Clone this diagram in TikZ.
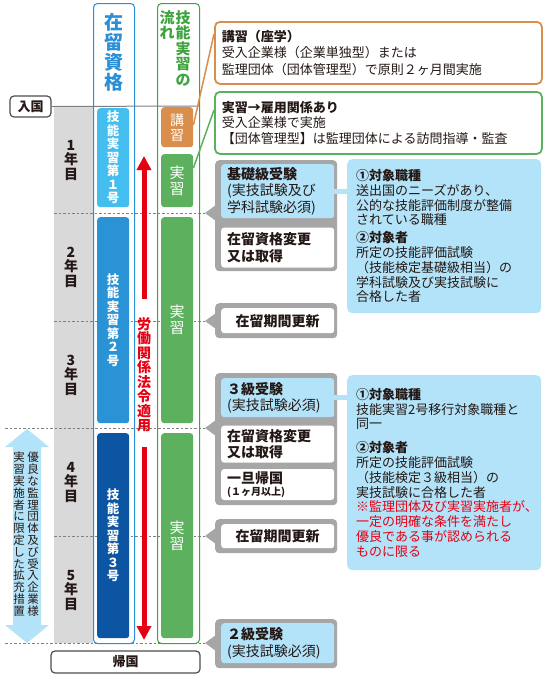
\documentclass[tikz,border=0pt]{standalone}
\usepackage{fontspec}
\setmainfont{Noto Sans CJK JP}
\usetikzlibrary{positioning, arrows.meta}

\definecolor{statusblue}{HTML}{2B8FD6}
\definecolor{flowgreen}{HTML}{3FA43F}
\definecolor{lectorange}{HTML}{D98E4B}
\definecolor{tiblue}{HTML}{44BEEE}
\definecolor{tiiblue}{HTML}{2A93D5}
\definecolor{tiiiblue}{HTML}{0B55A3}
\definecolor{stagegreen}{HTML}{5DB05E}
\definecolor{bandgrey}{HTML}{D9D9D9}
\definecolor{framegrey}{HTML}{A6A6A6}
\definecolor{infoblue}{HTML}{B3E3F9}
\definecolor{lawred}{HTML}{E50012}
\definecolor{ink}{HTML}{231815}
\definecolor{gatedark}{HTML}{4D4D4D}

\newcommand{\fs}[2]{\fontsize{#1}{#2}\selectfont}

\tikzset{
  column/.style={draw, line width=1pt, rounded corners=4pt, anchor=north west,
    minimum width=41pt, minimum height=640pt, inner sep=0pt},
  stage/.style={rounded corners=3pt, anchor=north west, minimum width=32pt,
    inner sep=0pt, text=white, align=center},
  vtext/.style={anchor=north, inner sep=0pt, align=center},
  year/.style={inner sep=0pt, align=center, font=\bfseries\fs{14}{14.5}},
  gate/.style={draw=gatedark, line width=1.2pt, rounded corners=4pt, inner sep=0pt,
    font=\bfseries\fs{13}{13}},
  yearline/.style={draw=gray, dash pattern=on 2.5pt off 2pt, line width=0.8pt},
  lawarrow/.style={draw=lawred, line width=5pt, -{Triangle[width=14pt, length=14pt]}},
  note/.style={line width=1.8pt, rounded corners=5pt, anchor=north west,
    minimum width=327pt, minimum height=62pt, text width=313pt, inner xsep=7pt,
    align=left},
  frame/.style={fill=framegrey, rounded corners=4pt, anchor=north west,
    minimum width=122pt, inner sep=0pt},
  exam/.style={fill=infoblue, rounded corners=3pt, anchor=north west,
    text width=101pt, inner xsep=6pt, inner ysep=0pt, align=left, font=\fs{14}{16.5}},
  proc/.style={exam, fill=white, font=\bfseries\fs{14}{16.5}},
  info/.style={fill=infoblue, rounded corners=5pt, anchor=north west,
    text width=176pt, inner xsep=9pt, align=left, font=\fs{13}{14.8}},
  bar/.style={draw=infoblue, line width=5pt}
}

\begin{document}
\begin{tikzpicture}[x=1pt, y=-1pt, text=ink]
\useasboundingbox (0,0) rectangle (542,689);

% years band
\fill[bandgrey] (54,106) rectangle (93,643);

% year boundaries
\coordinate (d1) at (54,213);  \coordinate (t1) at (205,213);
\coordinate (d2) at (54,321);  \coordinate (t2) at (205,321);
\coordinate (d3) at (5,428);   \coordinate (t3) at (205,428);
\coordinate (d4) at (54,536);  \coordinate (t4) at (205,536);
\coordinate (d5) at (5,643);   \coordinate (t5) at (205,643);
\foreach \a/\b in {d1/t1, d2/t2, d3/t3, d4/t4, d5/t5}
  \draw[yearline] (\a) -- (\b);

% entry
\node[gate, minimum width=41pt, minimum height=21pt] (entry) at (30.5,106.5) {入国};
\coordinate (entryend) at (199,106);
\draw[gray, line width=1pt] (entry.east) -- (entryend);

% columns
\node[column, draw=statusblue] (status) at (93,3) {};
\node[column, draw=flowgreen, minimum width=42pt] (flow) at (157,3) {};
\node[vtext, text=statusblue, font=\bfseries\fs{19}{20}] (statushead) at (113.5,13) {在\\留\\資\\格};
\node[vtext, text=flowgreen, font=\bfseries\fs{15}{15.6}] (flowhead) at (183,10) {技\\能\\実\\習\\の};
\node[vtext, text=flowgreen, font=\bfseries\fs{15}{15.6}] (flowhead2) at (167,10) {流\\れ};

% status stages
\node[stage, fill=tiblue, minimum height=99pt, font=\bfseries\fs{12.5}{13.5}] (ti1) at (97,108) {技\\能\\実\\習\\第\\１\\号};
\node[stage, fill=tiiblue, minimum height=206pt, font=\bfseries\fs{12.5}{13.5}] (ti2) at (97,217) {技\\能\\実\\習\\第\\２\\号};
\node[stage, fill=tiiiblue, minimum height=205pt, font=\bfseries\fs{12.5}{13.5}] (ti3) at (97,433) {技\\能\\実\\習\\第\\３\\号};

% flow stages
\node[stage, fill=lectorange, minimum height=40pt, font=\fs{14}{15}] (lecture) at (161,107) {講\\習};
\node[stage, fill=stagegreen, minimum height=53pt, font=\fs{15}{16}] (train1) at (161,154) {実\\習};
\node[stage, fill=stagegreen, minimum height=206pt, font=\fs{15}{16}] (train2) at (161,217) {実\\習};
\node[stage, fill=stagegreen, minimum height=205pt, font=\fs{15}{16}] (train3) at (161,433) {実\\習};

% labour law
\node[vtext, text=lawred, font=\bfseries\fs{14}{14.5}] (law) at (144,317) {労\\働\\関\\係\\法\\令\\適\\用};
\coordinate (lawa) at (144,299); \coordinate (lawb) at (144,156);
\coordinate (lawc) at (144,447); \coordinate (lawd) at (144,640);
\draw[lawarrow] (lawa) -- (lawb);
\draw[lawarrow] (lawc) -- (lawd);

% years
\foreach \n/\y in {1/160, 2/267, 3/375, 4/482, 5/590}
  \node[year] (y\n) at (71,\y) {\n\\年\\目};

% extension
\fill[infoblue] (27,429) -- (49,447) -- (41,447) -- (41,625) -- (49,625) -- (27,643)
  -- (5,625) -- (13,625) -- (13,447) -- (5,447) -- cycle;
\node[vtext, font=\fs{11.5}{11.8}] (good1) at (33,452) {優\\良\\な\\監\\理\\団\\体\\及\\び\\受\\入\\企\\業\\様};
\node[vtext, font=\fs{11.5}{11.8}] (good2) at (19,452) {実\\習\\実\\施\\者\\に\\限\\定\\し\\た\\拡\\充\\措\\置};

% return
\node[gate, minimum width=149pt, minimum height=22pt] (return) at (125.5,662) {帰国};

% notes
\node[note, draw=lectorange, font=\fs{13}{16.5}] (lectnote) at (214,21)
  {\textbf{講習（座学）}\\受入企業様（企業単独型）または\\監理団体（団体管理型）で原則２ヶ月間実施};
\node[note, draw=stagegreen, font=\fs{13}{15.5}] (trainnote) at (214,91)
  {\textbf{実習→雇用関係あり}\\受入企業様で実施\\【団体管理型】は監理団体による訪問指導・監査};
\draw[lectorange, line width=1.5pt] ([yshift=-18pt]lecture.north east) -- ([yshift=-13pt]lectnote.north west);
\draw[stagegreen, line width=1.5pt] ([yshift=-14pt]train1.north east) -- ([yshift=-19pt]trainnote.north west);

% callouts
\node[frame, minimum height=111pt] (g1) at (215,160) {};
\fill[framegrey] (t1) -- ++(11,-8) -- ++(0,16) -- cycle;
\node[exam, minimum height=54pt] (exam1) at (221,164) {\textbf{基礎級受験}\\(実技試験及び\\学科試験必須)};
\node[proc, minimum height=40pt, below=9pt of exam1] (proc1) {在留資格変更\\又は取得};

\node[frame, minimum height=35pt] (g2) at (215,303) {};
\fill[framegrey] (t2) -- ++(11,-8) -- ++(0,16) -- cycle;
\node[proc, minimum height=25pt, align=center] (renew1) at (221,308) {在留期間更新};

\node[frame, minimum height=132pt] (g3) at (215,373) {};
\fill[framegrey] (t3) -- ++(11,-8) -- ++(0,16) -- cycle;
\node[exam, minimum height=39pt] (exam3) at (221,378) {\textbf{３級受験}\\(実技試験必須)};
\node[proc, minimum height=37pt, below=8pt of exam3] (proc3) {在留資格変更\\又は取得};
\node[proc, minimum height=31pt, below=6pt of proc3] (home) {一旦帰国\\[-5pt]{\fs{10}{11}(１ヶ月以上)}};

\node[frame, minimum height=34pt] (g4) at (215,519) {};
\fill[framegrey] (t4) -- ++(11,-8) -- ++(0,16) -- cycle;
\node[proc, minimum height=24pt, align=center] (renew2) at (221,524) {在留期間更新};

\node[frame, minimum height=49pt] (g5) at (215,619) {};
\fill[framegrey] (t5) -- ++(11,-8) -- ++(0,16) -- cycle;
\node[exam, minimum height=40pt] (exam5) at (221,623) {\textbf{２級受験}\\(実技試験必須)};

% info
\node[info, minimum height=154pt] (info1) at (347,159)
  {\textbf{①対象職種}\\送出国のニーズがあり、\\公的な技能評価制度が整備\\されている職種\\[3pt]
   \textbf{②対象者}\\所定の技能評価試験\\（技能検定基礎級相当）の\\学科試験及び実技試験に\\合格した者};
\draw[bar] (exam1.east) -- (exam1.east -| info1.west);

\node[info, minimum height=195pt] (info3) at (347,375)
  {\textbf{①対象職種}\\技能実習2号移行対象職種と\\同一\\[9pt]
   \textbf{②対象者}\\所定の技能評価試験\\（技能検定３級相当）の\\実技試験に合格した者\\
   \textcolor{lawred}{※監理団体及び実習実施者が、}\\\textcolor{lawred}{一定の明確な条件を満たし}\\
   \textcolor{lawred}{優良である事が認められる}\\\textcolor{lawred}{ものに限る}};
\draw[bar] (exam3.east) -- (exam3.east -| info3.west);

\end{tikzpicture}
\end{document}
